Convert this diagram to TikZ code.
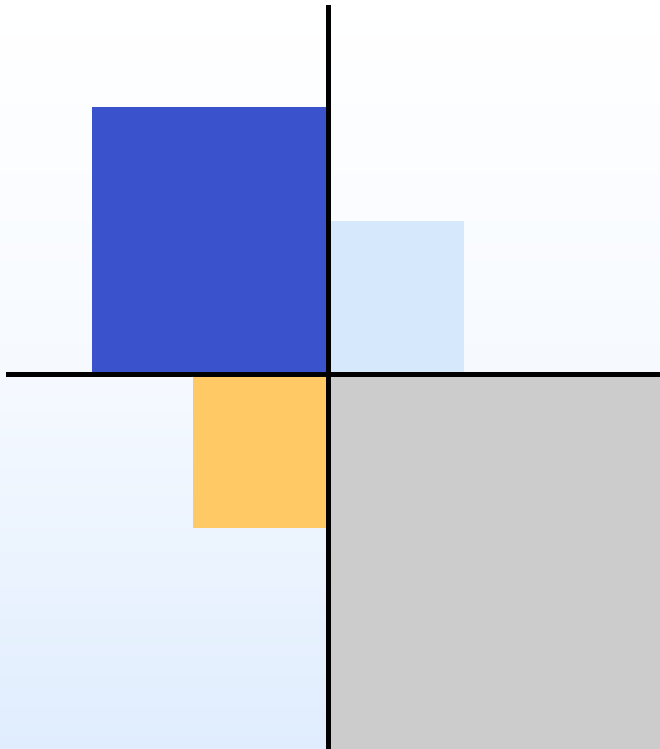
\documentclass[tikz,border=0pt]{standalone}
\begin{document}
\begin{tikzpicture}[x=1pt,y=-1pt]
\definecolor{bgtop}{RGB}{255,255,255}
\definecolor{bgbot}{RGB}{224,237,254}
\definecolor{qblue}{RGB}{58,82,204}
\definecolor{qlight}{RGB}{214,233,252}
\definecolor{qorange}{RGB}{255,201,102}
\definecolor{qgray}{RGB}{204,204,204}
\tikzset{axis/.style={line width=5pt,black}}
\useasboundingbox (0,0) rectangle (660,749);
\shade[top color=bgtop,bottom color=bgbot,middle color=bgtop!70!bgbot] (0,0) rectangle (660,749);
\fill[qblue] (92,107) rectangle (328,374);
\fill[qlight] (328,221) rectangle (463.5,374);
\fill[qorange] (193,374) rectangle (328,527.5);
\fill[qgray] (328,374) rectangle (660,749);
\coordinate (xl) at (6,374.2);
\coordinate (xr) at (660,374.2);
\coordinate (yt) at (328.5,5);
\coordinate (yb) at (328.5,749);
\draw[axis] (xl) -- (xr);
\draw[axis] (yt) -- (yb);
\end{tikzpicture}
\end{document}
